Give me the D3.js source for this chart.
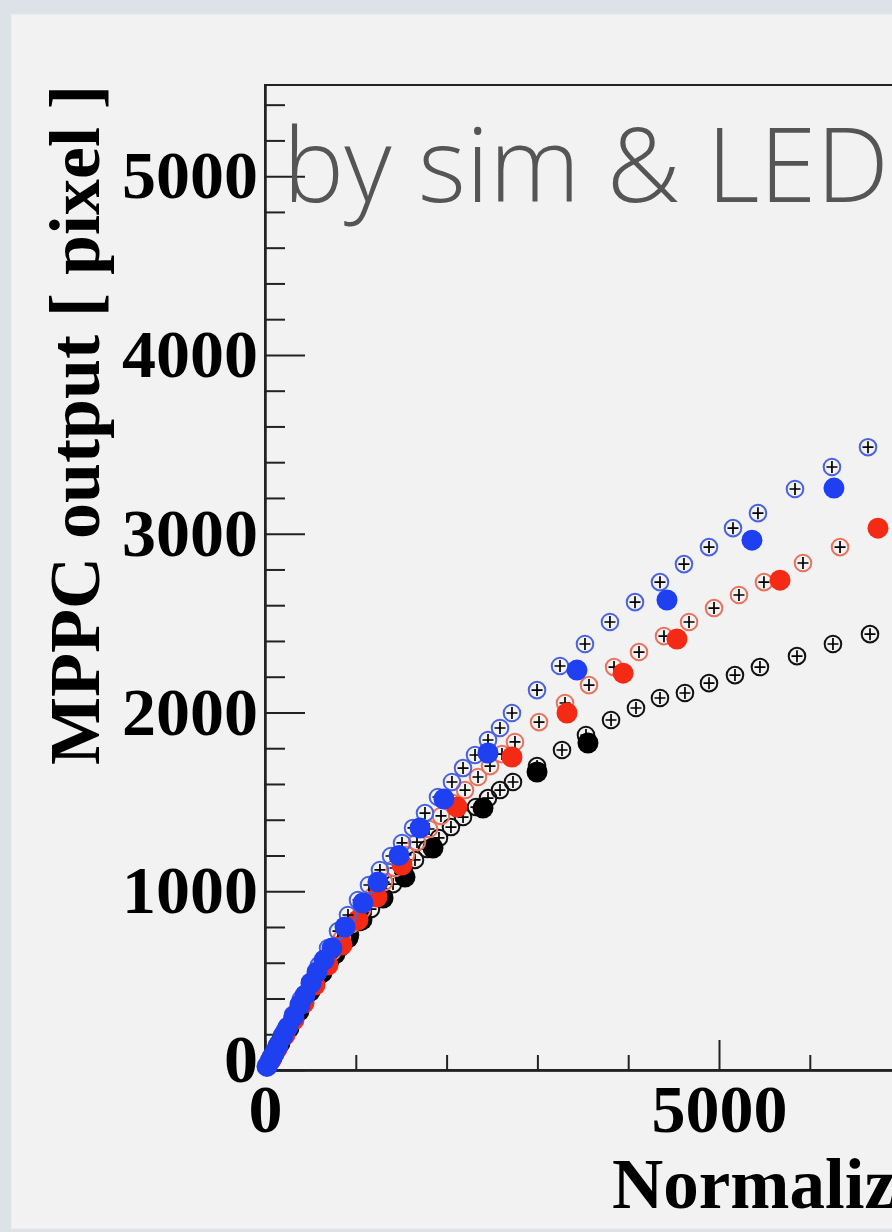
<!DOCTYPE html>
<html>
<head>
<meta charset="utf-8">
<script src="https://cdn.jsdelivr.net/npm/d3@7"></script>
<style>
  html, body { margin: 0; padding: 0; background: #dde2e8; }
  svg { display: block; }
</style>
</head>
<body>
<svg id="chart" width="892" height="1232"></svg>
<script>
// Axis ticks
const yMajorTicks = [0, 1000, 2000, 3000, 4000, 5000];
const xMajorTicks = [0, 5000];

// Simulation points (open markers) and LED measurements (filled markers), [x, y]
const blueSim = [[66,67],[143,145],[220,224],[308,308],[396,397],[496,492],[595,587],[694,682],[804,777],[914,867],[1024,951],[1145,1035],[1266,1119],[1388,1197],[1509,1270],[1630,1354],[1762,1437],[1905,1527],[2059,1611],[2181,1689],[2313,1762],[2456,1846],[2588,1913],[2720,1997],[2996,2125],[3249,2260],[3524,2383],[3799,2506],[4075,2617],[4350,2729],[4614,2830],[4890,2925],[5154,3031],[5429,3115],[5837,3250],[6244,3373],[6641,3484]];
const blueLED = [[22,20],[55,50],[99,90],[143,135],[198,190],[253,240],[319,300],[385,365],[441,419],[507,485],[573,548],[650,615],[738,682],[881,800],[1079,934],[1244,1051],[1476,1200],[1707,1354],[1971,1516],[2456,1773],[3436,2237],[4427,2629],[5363,2964],[6266,3255]];
const redSim = [[77,67],[154,145],[242,229],[330,319],[430,408],[529,492],[628,576],[738,660],[848,738],[958,817],[1068,895],[1189,973],[1311,1051],[1432,1130],[1553,1203],[1674,1275],[1806,1348],[1938,1421],[2070,1493],[2203,1566],[2346,1639],[2478,1700],[2610,1767],[2753,1835],[3018,1946],[3304,2053],[3568,2153],[3844,2254],[4119,2338],[4394,2427],[4670,2506],[4945,2584],[5220,2657],[5495,2729],[5925,2836],[6333,2925]];
const redLED = [[66,58],[132,118],[220,195],[319,280],[430,375],[551,475],[694,587],[848,699],[1024,839],[1233,968],[1509,1147],[2114,1471],[2720,1751],[3326,1997],[3944,2220],[4537,2411],[5672,2740],[6751,3031]];
const blackSim = [[66,67],[143,140],[220,213],[308,291],[407,375],[507,453],[606,531],[716,610],[826,682],[936,755],[1046,828],[1167,900],[1289,973],[1410,1040],[1531,1107],[1652,1175],[1784,1236],[1916,1298],[2048,1359],[2181,1415],[2324,1471],[2456,1521],[2588,1566],[2731,1611],[2996,1700],[3271,1790],[3535,1874],[3811,1958],[4086,2025],[4350,2081],[4625,2109],[4890,2164],[5176,2209],[5451,2254],[5859,2315],[6255,2383],[6663,2438]];
const blackLED = [[77,70],[165,150],[264,235],[374,330],[496,440],[628,545],[771,650],[914,740],[1068,840],[1300,962],[1542,1079],[1850,1242],[2401,1465],[2996,1667],[3557,1829]];

const svg = d3.select("#chart");

// Canvas panel
svg.append("rect").attr("x", 0).attr("y", 0).attr("width", 892).attr("height", 1232).attr("fill", "#dde2e8");
svg.append("rect").attr("x", 11).attr("y", 14).attr("width", 900).attr("height", 1215)
  .attr("fill", "#f2f2f2").attr("stroke", "#e6e6e6").attr("stroke-width", 1);

const x = d3.scaleLinear().domain([0, 10000]).range([265, 1173]);
const y = d3.scaleLinear().domain([0, 5510]).range([1070, 85]);

const axisFont = "'Liberation Serif', 'Times New Roman', serif";

// Frame
svg.append("path")
  .attr("d", `M${x(0)},${y(0)} V${y(5510)} H${x(10000)} V${y(0)} Z`)
  .attr("fill", "none").attr("stroke", "#222").attr("stroke-width", 2);

// Y axis: minor ticks every 200, major every 1000, drawn inside the frame
const yMinor = d3.range(0, 5510, 200).filter(v => v % 1000 !== 0);
const gyMinor = svg.append("g").attr("transform", `translate(${x(0)},0)`)
  .call(d3.axisLeft(y).tickValues(yMinor).tickSizeInner(-20).tickSizeOuter(0).tickFormat(""));
const gy = svg.append("g").attr("transform", `translate(${x(0)},0)`)
  .call(d3.axisLeft(y).tickValues(yMajorTicks).tickSizeInner(-40).tickSizeOuter(0).tickPadding(7).tickFormat(d3.format("d")));

// X axis: minor ticks every 1000, major every 5000
const xMinor = d3.range(0, 10001, 1000).filter(v => v % 5000 !== 0);
const gxMinor = svg.append("g").attr("transform", `translate(0,${y(0)})`)
  .call(d3.axisBottom(x).tickValues(xMinor).tickSizeInner(-15).tickSizeOuter(0).tickFormat(""));
const gxMajor = svg.append("g").attr("transform", `translate(0,${y(0)})`)
  .call(d3.axisBottom(x).tickValues([10000]).tickSizeInner(-30).tickSizeOuter(0).tickFormat(""));
const gx = svg.append("g").attr("transform", `translate(0,${y(0)})`)
  .call(d3.axisBottom(x).tickValues(xMajorTicks).tickSizeInner(-30).tickSizeOuter(0).tickPadding(14).tickFormat(d3.format("d")));

[gyMinor, gy, gxMinor, gxMajor, gx].forEach(g => {
  g.select(".domain").attr("stroke", "#222").attr("stroke-width", 2);
  g.selectAll(".tick line").attr("stroke", "#222").attr("stroke-width", 2);
  g.selectAll(".tick text").attr("fill", "#000")
    .style("font-family", axisFont).style("font-weight", "bold").style("font-size", "68px");
});
// The zero on the vertical axis sits a little above the corner
gy.selectAll(".tick").filter(d => d === 0).select("text").attr("y", -10);

// Axis titles
svg.append("text")
  .attr("transform", "translate(99,85) rotate(-90)")
  .attr("text-anchor", "end")
  .style("font-family", axisFont).style("font-weight", "bold").style("font-size", "72px")
  .text("MPPC output [ pixel ]");

svg.append("text")
  .attr("x", 612).attr("y", 1208)
  .style("font-family", axisFont).style("font-weight", "bold").style("font-size", "71px")
  .text("Normalized photon number");

// Markers
const plot = svg.append("g");

function drawSim(data, color) {
  const g = plot.append("g");
  g.selectAll("circle").data(data).join("circle")
    .attr("cx", d => x(d[0])).attr("cy", d => y(d[1])).attr("r", 8.3)
    .attr("fill", "none").attr("stroke", color).attr("stroke-width", 2);
  g.selectAll("path").data(data).join("path")
    .attr("d", d => `M${x(d[0]) - 5.5},${y(d[1])} h11 M${x(d[0])},${y(d[1]) - 6} v12`)
    .attr("stroke", "#000").attr("stroke-width", 1.7);
}
function drawLED(data, color) {
  plot.append("g").selectAll("circle").data(data).join("circle")
    .attr("cx", d => x(d[0])).attr("cy", d => y(d[1])).attr("r", 10.5)
    .attr("fill", color);
}

drawSim(blackSim, "#111");
drawLED(blackLED, "#000");
drawSim(redSim, "#e8735f");
drawLED(redLED, "#f52a14");
drawSim(blueSim, "#4a63e0");
drawLED(blueLED, "#1e40f0");

// Overlay label
const label = svg.append("text")
  .attr("x", 283).attr("y", 202)
  .attr("fill", "#555")
  .style("font-family", "'Open Sans', 'Lato', sans-serif").style("font-weight", "300")
  .style("font-size", "100px")
  .text("by sim & LED");
const w = label.node().getComputedTextLength();
label.style("font-size", (100 * 606 / w) + "px");
</script>
</body>
</html>
